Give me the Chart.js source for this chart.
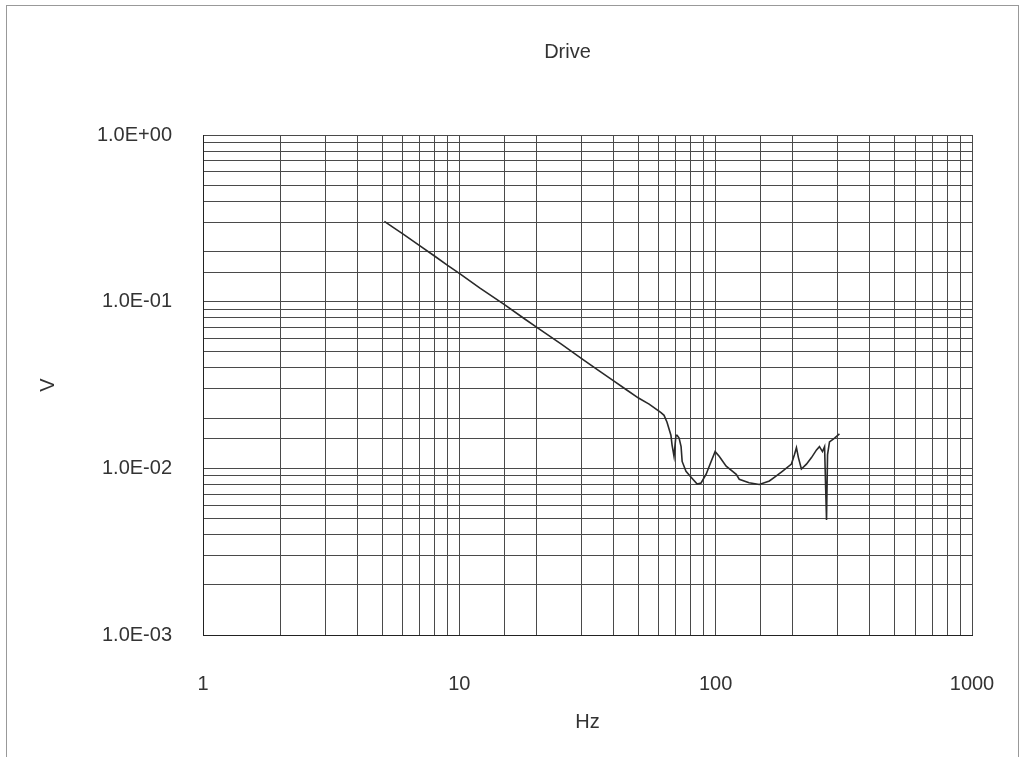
<!DOCTYPE html>
<html>
<head>
<meta charset="utf-8">
<title>Drive</title>
<script src="https://cdn.jsdelivr.net/npm/chart.js@4.4.1/dist/chart.umd.min.js"></script>
<style>
  html, body { margin: 0; padding: 0; background: #fff; }
  canvas { display: block; }
</style>
</head>
<body>
<canvas id="driveChart" width="1024" height="757"></canvas>
<script>
// drive level vs frequency
const freqHz = [
  5.1, 5.5, 6, 7, 8, 9, 10, 12, 15, 18, 20, 25, 30, 35, 40, 45, 50, 55,
  61.2, 62.9, 64.6, 66.9, 67.6, 68.8, 70.0, 70.7, 72.0, 73.3, 74.0, 76.6,
  80.2, 84.7, 87.7, 91.8, 96.0, 99.5, 103.2, 109.9, 120.3, 123.6, 135, 148,
  162, 172.5, 182, 197.5, 203, 206.6, 210.3, 216, 226, 236.5, 247.4, 254,
  261, 266, 268.3, 270.7, 273.2, 278, 291, 304
];
const driveV = [
  0.303, 0.280, 0.256, 0.217, 0.188, 0.165, 0.148, 0.121, 0.096, 0.0787, 0.0703, 0.0556, 0.0455, 0.0386, 0.0335, 0.0295, 0.0264, 0.0243,
  0.0216, 0.0208, 0.0189, 0.0158, 0.0138, 0.0118, 0.0158, 0.0158, 0.0152, 0.0135, 0.0110, 0.0096,
  0.00885, 0.00805, 0.00817, 0.00922, 0.0110, 0.0126, 0.0118, 0.0103, 0.0092, 0.0086, 0.0082, 0.0080,
  0.0084, 0.0090, 0.0096, 0.0106, 0.0121, 0.0133, 0.0116, 0.0099, 0.0106, 0.0116, 0.0129, 0.0135,
  0.0126, 0.0135, 0.0081, 0.0049, 0.0121, 0.0144, 0.0152, 0.0161
];

// axis ranges
const xRange = [1, 1000];
const yRange = [0.001, 1];

const labelFont = { family: "'Liberation Sans', Arial, sans-serif", size: 20 };

function isDecade(v) {
  const e = Math.log10(v);
  return Math.abs(e - Math.round(e)) < 1e-9;
}

// 1.0E-02 style
function sciLabel(v) {
  const e = Math.round(Math.log10(v));
  const m = v / Math.pow(10, e);
  const sign = e < 0 ? '-' : '+';
  return m.toFixed(1) + 'E' + sign + String(Math.abs(e)).padStart(2, '0');
}

const frame = {
  id: 'frame',
  beforeDraw(chart) {
    const ctx = chart.ctx;
    ctx.save();
    ctx.fillStyle = '#fff';
    ctx.fillRect(0, 0, chart.width, chart.height);
    ctx.strokeStyle = '#999';
    ctx.lineWidth = 1;
    ctx.strokeRect(6.5, 5.5, chart.width - 12, chart.height + 10);
    ctx.restore();
  },
  afterDraw(chart) {
    const ctx = chart.ctx;
    const a = chart.chartArea;
    ctx.save();
    ctx.fillStyle = '#333';
    ctx.font = "20px 'Liberation Sans', Arial, sans-serif";
    ctx.textAlign = 'center';
    ctx.textBaseline = 'middle';
    ctx.fillText('Drive', (a.left + a.right) / 2 - 20, 52);
    ctx.restore();
  }
};

new Chart(document.getElementById('driveChart'), {
  type: 'line',
  data: {
    datasets: [{
      label: 'Drive',
      data: freqHz.map((f, i) => ({ x: f, y: driveV[i] })),
      borderColor: '#2a2a2a',
      borderWidth: 1.6,
      pointRadius: 0,
      tension: 0,
      fill: false
    }]
  },
  options: {
    responsive: false,
    animation: false,
    devicePixelRatio: 1,
    layout: { padding: { top: 135, right: 52, bottom: 0, left: 0 } },
    plugins: {
      legend: { display: false },
      tooltip: { enabled: false },
      title: { display: false }
    },
    scales: {
      x: {
        type: 'logarithmic',
        min: xRange[0],
        max: xRange[1],
        afterFit(scale) {
          scale.height = 122;
          scale.paddingLeft = 0;
          scale.paddingRight = 0;
        },
        grid: { color: '#4a4a4a', lineWidth: 1, drawTicks: false },
        border: { color: '#222', width: 1 },
        ticks: {
          autoSkip: false,
          maxRotation: 0,
          padding: 37,
          color: '#333',
          font: labelFont,
          callback: v => isDecade(v) ? String(Math.round(v)) : ''
        },
        title: { display: true, text: 'Hz', color: '#333', font: labelFont, padding: { top: 0, bottom: 23 } }
      },
      y: {
        type: 'logarithmic',
        min: yRange[0],
        max: yRange[1],
        afterFit(scale) { scale.width = 203; },
        grid: { color: '#4a4a4a', lineWidth: 1, drawTicks: false },
        border: { color: '#222', width: 1 },
        ticks: {
          autoSkip: false,
          padding: 31,
          color: '#333',
          font: labelFont,
          callback: v => isDecade(v) ? sciLabel(v) : ''
        },
        title: { display: true, text: 'V', color: '#333', font: labelFont, padding: { top: 36, bottom: 0 } }
      }
    }
  },
  plugins: [frame]
});
</script>
</body>
</html>
